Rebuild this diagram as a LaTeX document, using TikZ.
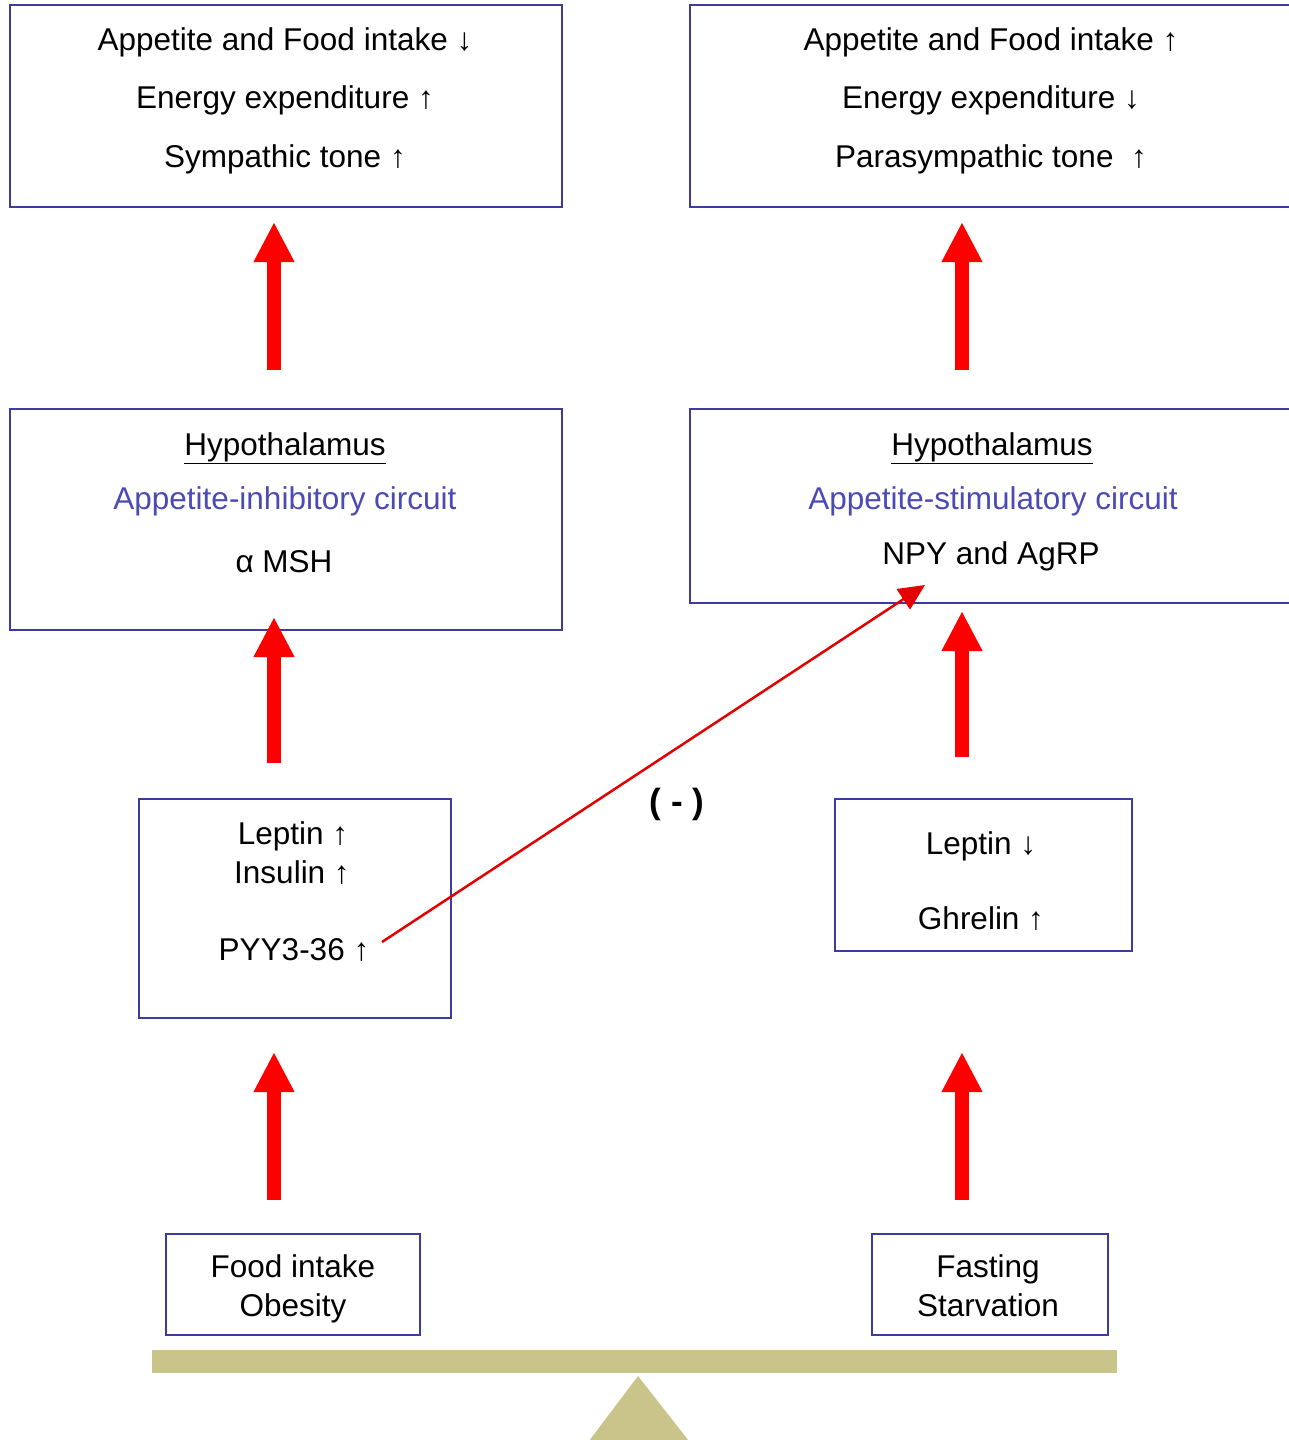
\documentclass[tikz,border=0pt]{standalone}
\usepackage{fontspec}
\setmainfont{Liberation Sans}
\usetikzlibrary{arrows.meta}
\definecolor{boxblue}{RGB}{60,60,160}
\definecolor{txtblue}{RGB}{75,75,180}
\definecolor{beamcol}{RGB}{200,196,138}
\begin{document}
\begin{tikzpicture}[x=1pt,y=-1pt,
  box/.style={draw=boxblue, line width=2.8pt, anchor=north west, inner sep=0pt, outer sep=0pt},
  lbl/.style={font=\fontsize{31.5}{36}\selectfont, inner sep=0pt, anchor=base},
  bluelbl/.style={lbl, text=txtblue},
  bigarrow/.style={draw=red, line width=14pt, -{Triangle[width=38pt,length=40pt]}},
  thinarrow/.style={draw=red!90!black, line width=2.5pt, -{Triangle[width=24pt,length=26pt]}}]
\useasboundingbox (0,0) rectangle (1288,1440);
\fill[white] (0,0) rectangle (1288,1440);

% boxes
\node[box, minimum width=552pt, minimum height=202pt] (tl) at (10,5) {};
\node[box, minimum width=602pt, minimum height=202pt] (tr) at (690,5) {};
\node[box, minimum width=552pt, minimum height=221pt] (ml) at (10,409) {};
\node[box, minimum width=602pt, minimum height=194pt] (mr) at (690,409) {};
\node[box, minimum width=312pt, minimum height=219pt] (lsm) at (139,799) {};
\node[box, minimum width=297pt, minimum height=152pt] (rsm) at (835,799) {};
\node[box, minimum width=254pt, minimum height=101pt] (food) at (166,1234) {};
\node[box, minimum width=236pt, minimum height=101pt] (fast) at (872,1234) {};

% texts
\node[lbl] (tl1) at (285,50) {Appetite and Food intake ↓};
\node[lbl] (tl2) at (285,108) {Energy expenditure ↑};
\node[lbl] (tl3) at (285,167) {Sympathic tone ↑};
\node[lbl] (tr1) at (991,50) {Appetite and Food intake ↑};
\node[lbl] (tr2) at (991,108) {Energy expenditure ↓};
\node[lbl] (tr3) at (991,167) {Parasympathic tone \ ↑};

\node[lbl] (ml1) at (285,455) {\underline{Hypothalamus}};
\node[bluelbl] (ml2) at (285,509) {Appetite-inhibitory circuit};
\node[lbl] (ml3) at (284,572) {α MSH};
\node[lbl] (mr1) at (992,455) {\underline{Hypothalamus}};
\node[bluelbl] (mr2) at (993,509) {Appetite-stimulatory circuit};
\node[lbl] (mr3) at (991,564) {NPY and AgRP};

\node[lbl] (lep1) at (293,844) {Leptin ↑};
\node[lbl] (ins1) at (292,883) {Insulin ↑};
\node[lbl] (pyy) at (294,960) {PYY3-36 ↑};
\node[lbl] (lep2) at (981,854) {Leptin ↓};
\node[lbl] (ghr) at (981,929) {Ghrelin ↑};

\node[lbl] (food1) at (293,1277) {Food intake};
\node[lbl] (food2) at (293,1316) {Obesity};
\node[lbl] (fast1) at (988,1277) {Fasting};
\node[lbl] (fast2) at (988,1316) {Starvation};

\node[lbl, font=\bfseries\fontsize{35}{40}\selectfont] (neg) at (677,813) {( - )};

% balance
\fill[beamcol] (152,1350) rectangle (1117,1373);
\fill[beamcol] (638,1376) -- (586,1445) -- (692,1445) -- cycle;

% thick arrows
\coordinate (axL) at (274,0);
\coordinate (axR) at (962,0);
\draw[bigarrow, shorten <=39pt, shorten >=15pt] (axL |- ml.north) -- (axL |- tl.south);
\draw[bigarrow, shorten <=36pt, shorten >=-13pt] (axL |- lsm.north) -- (axL |- ml.south);
\draw[bigarrow, shorten <=34pt, shorten >=34pt] (axL |- food.north) -- (axL |- lsm.south);
\draw[bigarrow, shorten <=39pt, shorten >=15pt] (axR |- mr.north) -- (axR |- tr.south);
\draw[bigarrow, shorten <=42pt, shorten >=8pt] (axR |- rsm.north) -- (axR |- mr.south);
\draw[bigarrow, shorten <=34pt, shorten >=101pt] (axR |- fast.north) -- (axR |- rsm.south);

% inhibitory arrow
\coordinate (pyyout) at (382,942);
\coordinate (npytip) at (925,585);
\draw[thinarrow] (pyyout) -- (npytip);
\end{tikzpicture}
\end{document}
